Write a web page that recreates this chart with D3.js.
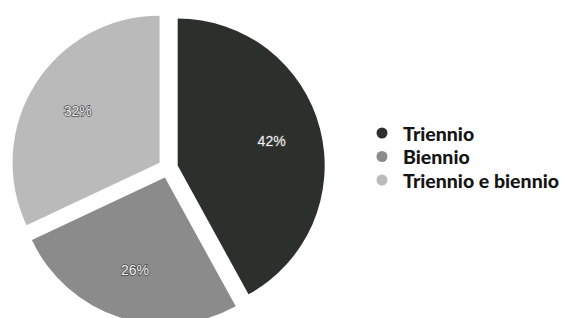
<!DOCTYPE html>
<html>
<head>
<meta charset="utf-8">
<script src="https://cdn.jsdelivr.net/npm/d3@7"></script>
<style>
  html, body { margin: 0; padding: 0; background: #ffffff; }
  svg { display: block; }
</style>
</head>
<body>
<script>
const width = 562;
const height = 318;

// data
const categories = ['Triennio', 'Biennio', 'Triennio e biennio'];
const values = [42, 26, 32];
const colors = ['#2c302d', '#8b8b8b', '#bababa'];

const center = { x: 168, y: 168 };
const radius = 147;
const explode = 10;
const labelRadius = 97;

const svg = d3.select('body')
  .append('svg')
  .attr('width', width)
  .attr('height', height);

const pie = d3.pie().sort(null).value(d => d.value);
const arc = d3.arc().innerRadius(0).outerRadius(radius);
const labelArc = d3.arc().innerRadius(labelRadius).outerRadius(labelRadius);

const data = categories.map((c, i) => ({ name: c, value: values[i], color: colors[i] }));
const arcs = pie(data);

function offset(a, r) {
  const mid = (a.startAngle + a.endAngle) / 2;
  return [Math.sin(mid) * r, -Math.cos(mid) * r];
}

const slices = svg.append('g')
  .attr('transform', `translate(${center.x},${center.y})`)
  .selectAll('g')
  .data(arcs)
  .enter()
  .append('g')
  .attr('transform', a => `translate(${offset(a, explode)})`);

slices.append('path')
  .attr('d', arc)
  .style('fill', a => a.data.color);

slices.append('text')
  .attr('transform', a => `translate(${labelArc.centroid(a)})`)
  .attr('text-anchor', 'middle')
  .attr('dominant-baseline', 'central')
  .style('font-family', 'Liberation Sans, Arial, sans-serif')
  .style('font-size', '14px')
  .style('fill', '#f2f2f2')
  .style('stroke', '#4a4a4a')
  .style('stroke-width', 1.4)
  .style('paint-order', 'stroke')
  .text(a => `${a.data.value}%`);

// legend
const legend = svg.append('g')
  .attr('transform', 'translate(382,133)')
  .selectAll('g')
  .data(data)
  .enter()
  .append('g')
  .attr('transform', (d, i) => `translate(0,${i * 23.5})`);

legend.append('circle')
  .attr('r', 5.5)
  .style('fill', d => d.color);

legend.append('text')
  .attr('x', 21)
  .attr('dominant-baseline', 'central')
  .style('font-family', 'Lato, sans-serif')
  .style('font-weight', 900)
  .style('font-size', '19.5px')
  .style('fill', '#151515')
  .text(d => d.name);
</script>
</body>
</html>
